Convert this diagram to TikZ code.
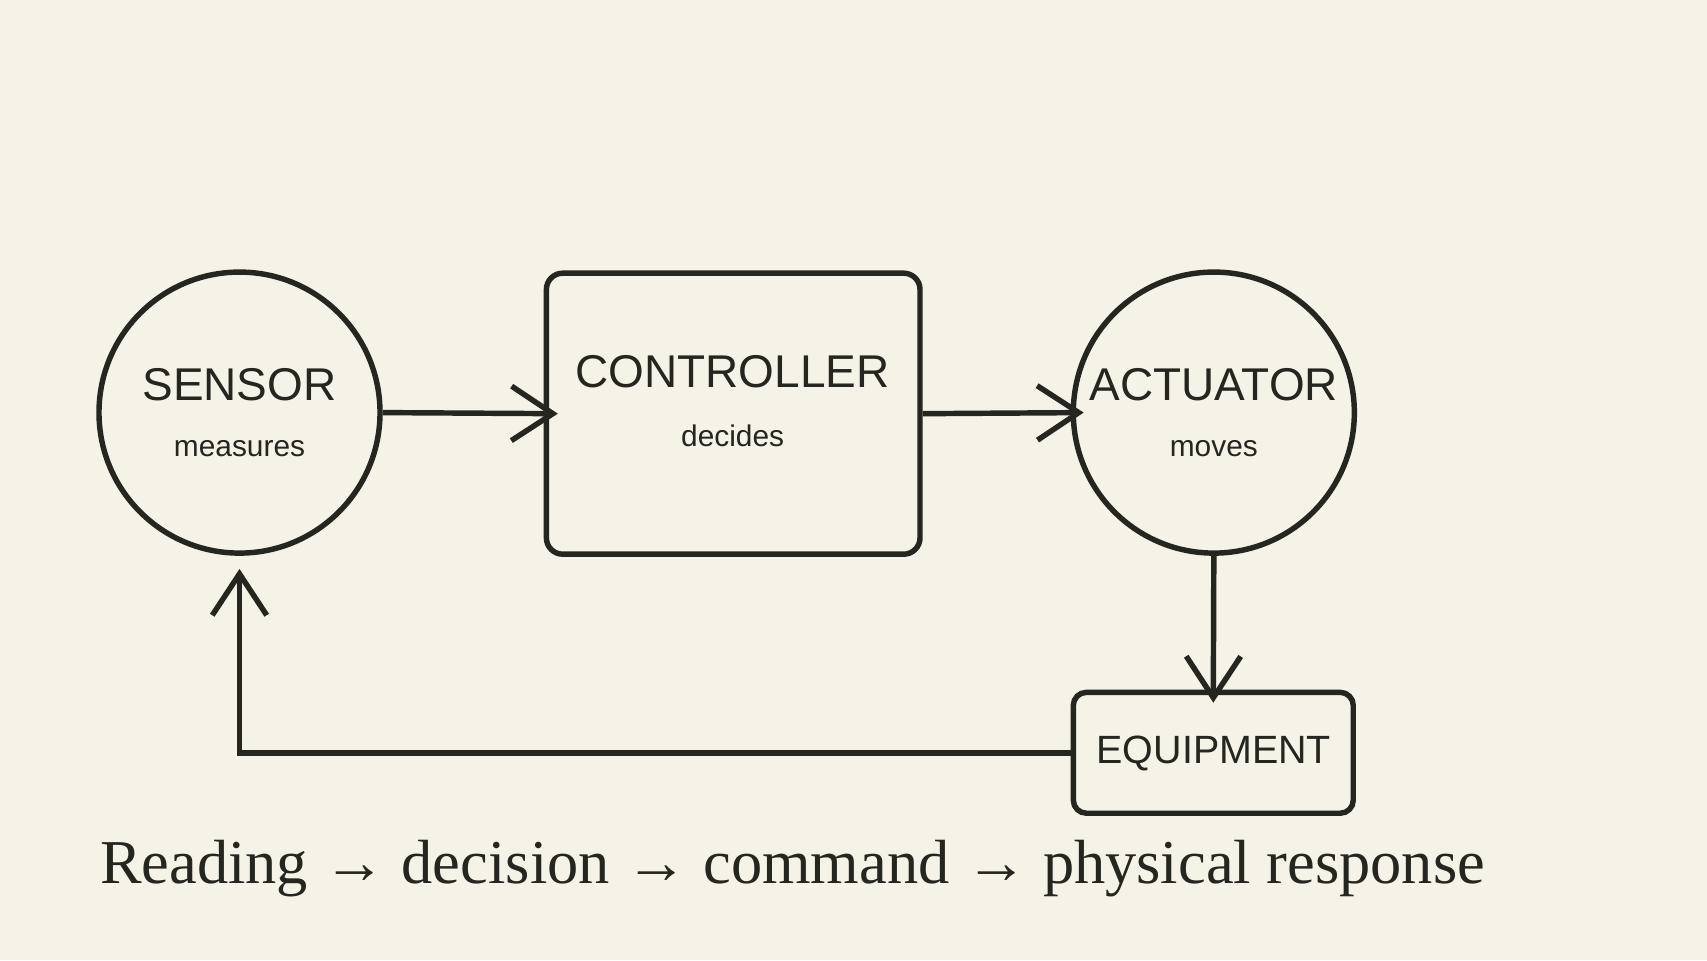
\documentclass[tikz,border=0pt]{standalone}
\usepackage{fontspec}
\setmainfont{Liberation Serif}
\newfontfamily\sansf{Liberation Sans}
\usetikzlibrary{arrows.meta}
\definecolor{bg}{HTML}{F5F2E8}
\definecolor{ink}{HTML}{25261F}
\begin{document}
\begin{tikzpicture}[x=0.01cm,y=-0.01cm,
  ln/.style={draw=ink,line width=0.05cm},
  arr/.style={ln,-{Straight Barb[length=0.38cm,width=0.5cm,line width=0.05cm]}},
  big/.style={font=\sansf\fontsize{12}{14}\selectfont,text=ink},
  small/.style={font=\sansf\fontsize{7.8}{9}\selectfont,text=ink}]
\fill[bg] (0,0) rectangle (1568,882);
\useasboundingbox (0,0) rectangle (1568,882);
\node[ln,circle,minimum size=2.58cm,inner sep=0] (sensor) at (220,379) {};
\node[ln,rounded corners=0.15cm,minimum width=3.43cm,minimum height=2.58cm] (ctrl) at (673.5,380) {};
\node[ln,circle,minimum size=2.58cm,inner sep=0] (act) at (1115,379) {};
\node[ln,rounded corners=0.12cm,minimum width=2.57cm,minimum height=1.11cm] (equip) at (1114.5,691.5) {};
\node[big] (t1) at (220,353) {SENSOR};
\node[small] (s1) at (220,412) {measures};
\node[big] (t2) at (673,341) {CONTROLLER};
\node[small] (s2) at (673,400) {decides};
\node[big] (t3) at (1115,353) {ACTUATOR};
\node[small] (s3) at (1115,412) {moves};
\node[font=\sansf\fontsize{10.3}{12}\selectfont,text=ink] (t4) at (1115,692) {EQUIPMENT};
\node[font=\fontsize{16.3}{19}\selectfont,text=ink] (cap) at (728,798) {Reading → decision → command → physical response};
\coordinate (c1) at ([xshift=0.13cm]ctrl.west);
\coordinate (c2) at ([xshift=0.12cm]act.west);
\coordinate (c3) at ([yshift=-0.12cm]equip.north);
\coordinate (c4) at ([yshift=-0.12cm]sensor.south);
\coordinate (corner) at (sensor.south |- equip.west);
\draw[arr] (sensor.east) -- (c1);
\draw[arr] (ctrl.east) -- (c2);
\draw[arr] (act.south) -- (c3);
\draw[arr] (equip.west) -- (corner) -- (c4);
\end{tikzpicture}
\end{document}
